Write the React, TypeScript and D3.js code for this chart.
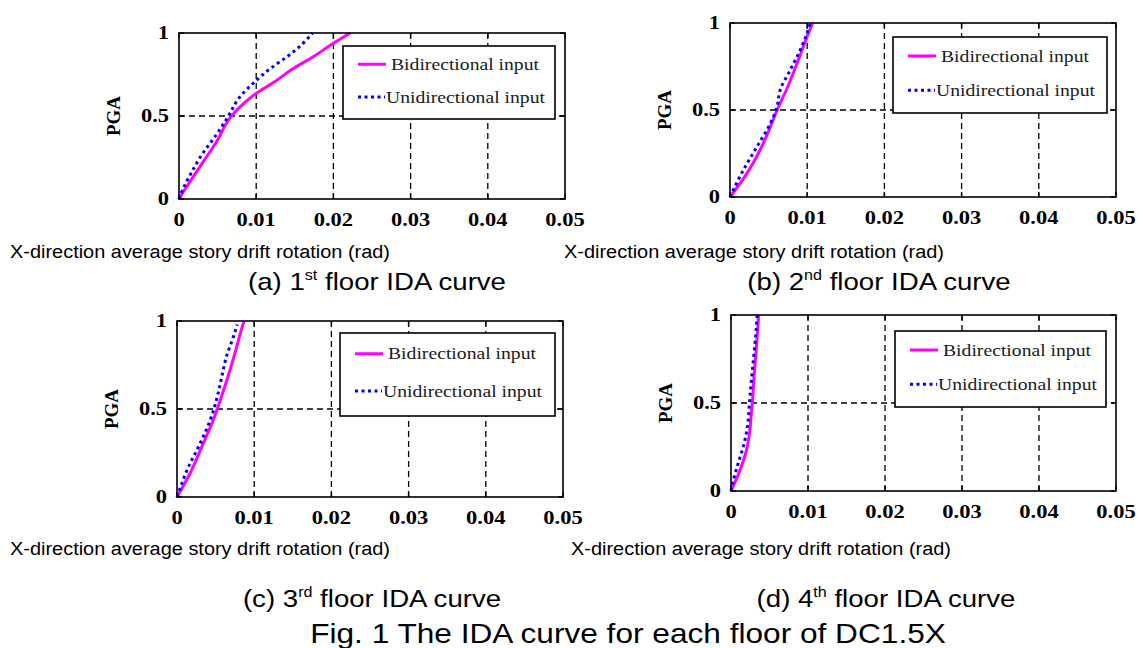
import React from 'react';
import * as d3 from 'd3';

// drift (rad), PGA (g) pairs
const floor1Bi: [number, number][] = [
  [0, 0], [0.0008, 0.06], [0.0018, 0.13], [0.003, 0.215], [0.0048, 0.34], [0.0068, 0.5], [0.0085, 0.58],
  [0.0099, 0.633], [0.0125, 0.71], [0.0146, 0.78], [0.0174, 0.857], [0.02, 0.938], [0.0222, 1.0],
];
const floor1Uni: [number, number][] = [
  [0, 0], [0.0005, 0.06], [0.0015, 0.15], [0.003, 0.27], [0.0048, 0.385], [0.0064, 0.5],
  [0.0078, 0.61], [0.0098, 0.705], [0.0118, 0.785], [0.014, 0.857], [0.016, 0.935], [0.0173, 1.0],
];
const floor2Bi: [number, number][] = [
  [0, 0], [0.0022, 0.136], [0.0039, 0.27], [0.0052, 0.4], [0.0061, 0.5], [0.0074, 0.625],
  [0.0087, 0.77], [0.0098, 0.9], [0.0107, 1.0],
];
const floor2Uni: [number, number][] = [
  [0, 0], [0.0015, 0.136], [0.0035, 0.29], [0.0052, 0.42], [0.0061, 0.52], [0.0065, 0.615],
  [0.0078, 0.73], [0.0091, 0.845], [0.0098, 0.92], [0.0104, 1.0],
];
const floor3Bi: [number, number][] = [
  [0, 0], [0.0017, 0.135], [0.0034, 0.305], [0.0047, 0.437], [0.0056, 0.55], [0.0066, 0.683],
  [0.0075, 0.816], [0.0086, 0.987], [0.0087, 1.0],
];
const floor3Uni: [number, number][] = [
  [0, 0], [0.0013, 0.153], [0.003, 0.305], [0.0043, 0.437], [0.0051, 0.55], [0.0058, 0.683],
  [0.0064, 0.797], [0.0073, 0.91], [0.0078, 0.98],
];
const floor4Bi: [number, number][] = [
  [0, 0], [0.0007, 0.067], [0.0013, 0.134], [0.002, 0.23], [0.0024, 0.326], [0.0026, 0.42],
  [0.0028, 0.517], [0.003, 0.65], [0.0032, 0.766], [0.0034, 0.88], [0.0036, 1.0],
];
const floor4Uni: [number, number][] = [
  [0, 0], [0.0003, 0.06], [0.0009, 0.153], [0.0017, 0.27], [0.0022, 0.385], [0.0024, 0.5],
  [0.0027, 0.65], [0.003, 0.785], [0.0032, 0.88], [0.0034, 1.0],
];

const xTicks = [0, 0.01, 0.02, 0.03, 0.04, 0.05];
const xTickLabels = ['0', '0.01', '0.02', '0.03', '0.04', '0.05'];
const yTicks = [0, 0.5, 1];
const yTickLabels = ['0', '0.5', '1'];
const seriesNames = ['Bidirectional input', 'Unidirectional input'];
const panelLetters = ['a', 'b', 'c', 'd'];
const floorNums = ['1', '2', '3', '4'];
const floorSups = ['st', 'nd', 'rd', 'th'];
const bidirectional = [floor1Bi, floor2Bi, floor3Bi, floor4Bi];
const unidirectional = [floor1Uni, floor2Uni, floor3Uni, floor4Uni];

// layout of the four panels (pixels)
const layout = [
  { left: 179, right: 565, top: 33, bottom: 199, lg: [343, 46, 212, 73], capX: 10, capY: 258, subX: 377, subY: 290 },
  { left: 730, right: 1116, top: 23, bottom: 197, lg: [893, 37, 214, 76], capX: 564, capY: 258, subX: 879, subY: 290 },
  { left: 177, right: 563, top: 321, bottom: 497, lg: [340, 333, 215, 83], capX: 10, capY: 555, subX: 372, subY: 607 },
  { left: 731, right: 1116, top: 315, bottom: 491, lg: [895, 331, 211, 76], capX: 571, capY: 555, subX: 886, subY: 607 },
];

const MAGENTA = '#ff00ff';
const BLUE = '#0000ff';
const serif = '"Liberation Serif", "Times New Roman", serif';
const sans = '"Liberation Sans", Arial, sans-serif';

// rough width of a bold Times numeric label, stretched like the source
const numWidth = (s: string, fs: number) =>
  s.split('').reduce((w, c) => w + (c === '.' ? 0.25 : 0.5), 0) * fs * 1.25;

const Panel = ({ i }: { i: number }) => {
  const p = layout[i];
  const x = d3.scaleLinear().domain([0, 0.05]).range([p.left, p.right]);
  const y = d3.scaleLinear().domain([0, 1]).range([p.bottom, p.top]);
  const line = d3.line<[number, number]>().x(d => x(d[0])).y(d => y(d[1])).curve(d3.curveMonotoneY);
  const [lx, ly, lw, lh] = p.lg;
  const fs = 18;

  return (
    <g>
      {/* grid */}
      {xTicks.slice(1, -1).map(t => (
        <line key={'gx' + t} x1={x(t)} x2={x(t)} y1={p.top} y2={p.bottom}
          stroke="#000" strokeWidth={1.3} strokeDasharray="6,4" />
      ))}
      <line x1={p.left} x2={p.right} y1={y(0.5)} y2={y(0.5)}
        stroke="#000" strokeWidth={1.3} strokeDasharray="6,4" />

      {/* ticks, inside */}
      {xTicks.map(t => (
        <g key={'tx' + t}>
          <line x1={x(t)} x2={x(t)} y1={p.bottom} y2={p.bottom - 5} stroke="#000" strokeWidth={1.4} />
          <line x1={x(t)} x2={x(t)} y1={p.top} y2={p.top + 5} stroke="#000" strokeWidth={1.4} />
        </g>
      ))}
      {yTicks.map(t => (
        <g key={'ty' + t}>
          <line x1={p.left} x2={p.left + 5} y1={y(t)} y2={y(t)} stroke="#000" strokeWidth={1.4} />
          <line x1={p.right} x2={p.right - 5} y1={y(t)} y2={y(t)} stroke="#000" strokeWidth={1.4} />
        </g>
      ))}

      {/* curves */}
      <path d={line(bidirectional[i]) || ''} fill="none" stroke={MAGENTA} strokeWidth={3} />
      <path d={line(unidirectional[i]) || ''} fill="none" stroke={BLUE} strokeWidth={3}
        strokeDasharray="3,3.5" />

      {/* frame */}
      <rect x={p.left} y={p.top} width={p.right - p.left} height={p.bottom - p.top}
        fill="none" stroke="#000" strokeWidth={1.6} />

      {/* legend */}
      <rect x={lx} y={ly} width={lw} height={lh} fill="#fff" stroke="#000" strokeWidth={1.6} />
      <line x1={lx + 15} x2={lx + 43} y1={ly + lh * 0.25} y2={ly + lh * 0.25} stroke={MAGENTA} strokeWidth={3} />
      <text x={lx + 48} y={ly + lh * 0.25} dy="0.33em" fontFamily={serif} fontSize={17} fill="#1a1a1a"
        textLength={148} lengthAdjust="spacingAndGlyphs">{seriesNames[0]}</text>
      <line x1={lx + 15} x2={lx + 42} y1={ly + lh * 0.7} y2={ly + lh * 0.7} stroke={BLUE} strokeWidth={3}
        strokeDasharray="3,3.5" />
      <text x={lx + 43} y={ly + lh * 0.7} dy="0.33em" fontFamily={serif} fontSize={17} fill="#1a1a1a"
        textLength={159} lengthAdjust="spacingAndGlyphs">{seriesNames[1]}</text>

      {/* tick labels */}
      {xTicks.map((t, k) => (
        <text key={'lx' + t} x={x(t)} y={p.bottom + 27} textAnchor="middle" fontFamily={serif}
          fontWeight="bold" fontSize={fs} textLength={numWidth(xTickLabels[k], fs)}
          lengthAdjust="spacingAndGlyphs">{xTickLabels[k]}</text>
      ))}
      {yTicks.map((t, k) => (
        <text key={'ly' + t} x={p.left - 10} y={y(t)} dy="0.35em" textAnchor="end" fontFamily={serif}
          fontWeight="bold" fontSize={fs} textLength={numWidth(yTickLabels[k], fs)}
          lengthAdjust="spacingAndGlyphs">{yTickLabels[k]}</text>
      ))}
      <text transform={`translate(${p.left - 66},${(p.top + p.bottom) / 2}) rotate(-90)`} textAnchor="middle"
        dy="0.35em" fontFamily={serif} fontWeight="bold" fontSize={19}>PGA</text>

      {/* captions */}
      <text x={p.capX} y={p.capY} fontFamily={sans} fontSize={18} textLength={380}
        lengthAdjust="spacingAndGlyphs">X-direction average story drift rotation (rad)</text>
      <text transform={`translate(${p.subX},${p.subY}) scale(1.15,1)`} textAnchor="middle"
        fontFamily={sans} fontSize={24}>
        ({panelLetters[i]}) {floorNums[i]}
        <tspan dy={-10} fontSize={14}>{floorSups[i]}</tspan>
        <tspan dy={10}> floor IDA curve</tspan>
      </text>
    </g>
  );
};

export default function App() {
  return (
    <svg width={1143} height={648} style={{ position: 'absolute', left: 0, top: 0, background: '#fff' }}>
      {layout.map((_, i) => <Panel key={i} i={i} />)}
      <text transform="translate(628,643) scale(1.13,1)" textAnchor="middle" fontFamily={sans}
        fontSize={28}>Fig. 1 The IDA curve for each floor of DC1.5X</text>
    </svg>
  );
}
